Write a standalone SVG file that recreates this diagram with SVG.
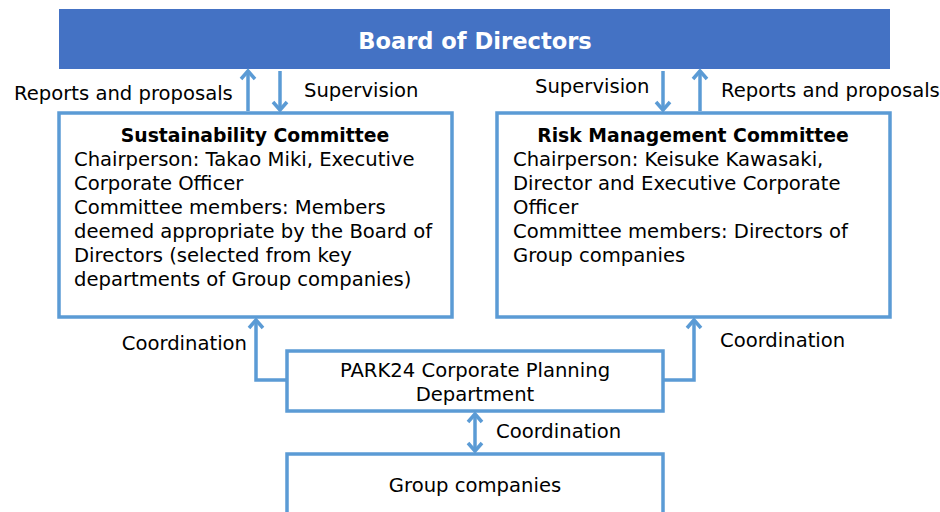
<svg xmlns="http://www.w3.org/2000/svg" width="940" height="512" viewBox="0 0 940 512">
<style>
.box{fill:#fff;stroke:#5B9BD5;stroke-width:3.5}
.t{font-family:"DejaVu Sans",Verdana,sans-serif;font-size:19.6px;fill:#000}
.b{font-weight:bold;font-size:18.8px}
.c{stroke:#5B9BD5;stroke-width:3.5;fill:none}
</style>
<defs>
<marker id="ah" markerUnits="userSpaceOnUse" viewBox="-12 -10 14 20" refX="0" refY="0" markerWidth="14" markerHeight="20" orient="auto-start-reverse" overflow="visible">
<path d="M-8,-7 L0,0 L-8,7" fill="none" stroke="#5B9BD5" stroke-width="3.5"/>
</marker>
</defs>
<g id="board">
<rect x="59" y="9" width="831" height="60" fill="#4472C4"/>
<text x="475" y="49" text-anchor="middle" class="t" style="font-weight:bold;font-size:22.6px;fill:#fff">Board of Directors</text>
</g>
<g id="sustainability">
<rect class="box" x="59" y="113" width="393" height="204"/>
<text class="t b" x="255" y="142" text-anchor="middle">Sustainability Committee</text>
<text class="t" x="74" y="166">Chairperson: Takao Miki, Executive</text>
<text class="t" x="74" y="190">Corporate Officer</text>
<text class="t" x="74" y="214">Committee members: Members</text>
<text class="t" x="74" y="238">deemed appropriate by the Board of</text>
<text class="t" x="74" y="262">Directors (selected from key</text>
<text class="t" x="74" y="286">departments of Group companies)</text>
</g>
<g id="risk">
<rect class="box" x="497" y="113" width="393" height="204"/>
<text class="t b" x="693" y="142" text-anchor="middle">Risk Management Committee</text>
<text class="t" x="513" y="166">Chairperson: Keisuke Kawasaki,</text>
<text class="t" x="513" y="190">Director and Executive Corporate</text>
<text class="t" x="513" y="214">Officer</text>
<text class="t" x="513" y="238">Committee members: Directors of</text>
<text class="t" x="513" y="262">Group companies</text>
</g>
<g id="planning">
<rect class="box" x="287" y="351" width="376" height="60"/>
<text class="t" x="475" y="377" text-anchor="middle">PARK24 Corporate Planning</text>
<text class="t" x="475" y="401" text-anchor="middle">Department</text>
</g>
<g id="group">
<rect class="box" x="287" y="454" width="376" height="70"/>
<text class="t" x="475" y="492" text-anchor="middle">Group companies</text>
</g>
<g id="connectors">
<line class="c" x1="248" y1="111" x2="248" y2="71" marker-end="url(#ah)"/>
<line class="c" x1="280" y1="71" x2="280" y2="110" marker-end="url(#ah)"/>
<line class="c" x1="663" y1="71" x2="663" y2="110" marker-end="url(#ah)"/>
<line class="c" x1="700" y1="111" x2="700" y2="71" marker-end="url(#ah)"/>
<polyline class="c" points="287,380 256,380 256,320" marker-end="url(#ah)"/>
<polyline class="c" points="663,380 694,380 694,320" marker-end="url(#ah)"/>
<line class="c" x1="475" y1="414" x2="475" y2="451" marker-start="url(#ah)" marker-end="url(#ah)"/>
<text class="t" x="14" y="100">Reports and proposals</text>
<text class="t" x="304" y="97">Supervision</text>
<text class="t" x="535" y="93">Supervision</text>
<text class="t" x="721" y="97">Reports and proposals</text>
<text class="t" x="247" y="350" text-anchor="end">Coordination</text>
<text class="t" x="720" y="347">Coordination</text>
<text class="t" x="496" y="438">Coordination</text>
</g>
</svg>
